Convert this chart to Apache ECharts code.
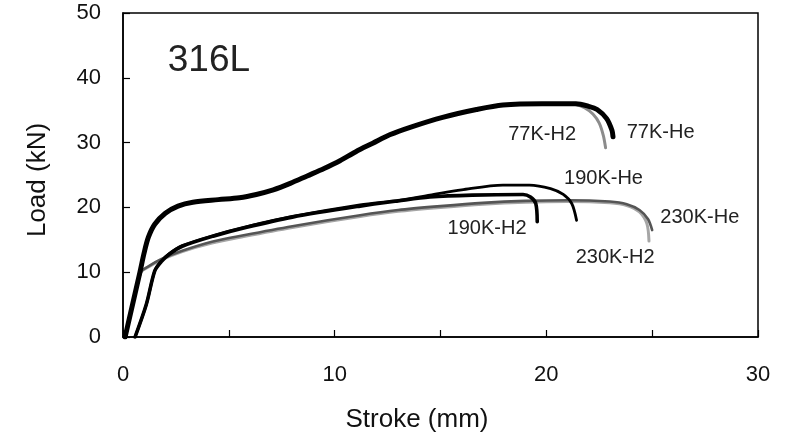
<!DOCTYPE html>
<html><head><meta charset="utf-8">
<script src="https://cdn.jsdelivr.net/npm/echarts@6/dist/echarts.min.js"></script>
<style>html,body{margin:0;padding:0;background:#fff}#c{width:787px;height:435px}</style>
</head><body><div id="c"></div>
<script>
// Stroke (mm), Load (kN) pairs
const he77 = [[0.1,0],[0.45,5],[0.8,10],[1.0,13],[1.2,15.4],[1.5,17.4],[2.0,19.1],[2.6,20.2],[3.3,20.8],[4.5,21.2],[5.5,21.5],[6.3,22.0],[7.1,22.7],[7.9,23.7],[8.7,24.85],[9.5,26.0],[10.25,27.2],[11.0,28.6],[11.8,29.9],[12.6,31.2],[13.6,32.4],[15.1,33.9],[16.7,35.1],[17.95,35.8],[19.8,36.0],[21.4,36.0],[22.0,35.6],[22.4,35.1],[22.85,33.7],[23.1,31.9],[23.15,30.9]];
const h2_77 = [[0.1,0],[0.45,5],[0.8,10],[1.0,13],[1.2,15.4],[1.5,17.4],[2.0,19.1],[2.6,20.2],[3.3,20.8],[4.5,21.2],[5.5,21.5],[6.3,22.0],[7.1,22.7],[7.9,23.7],[8.7,24.85],[9.5,26.0],[10.25,27.2],[11.0,28.6],[11.8,29.9],[12.6,31.2],[13.6,32.4],[15.1,33.9],[16.7,35.1],[17.95,35.8],[19.8,36.0],[21.3,35.9],[21.8,35.4],[22.2,34.4],[22.5,33.0],[22.7,31.0],[22.8,29.2]];
const he190 = [[0.57,0],[1.1,5],[1.5,10.2],[1.8,11.7],[2.2,12.9],[2.8,14.1],[4.3,15.7],[5.8,17.0],[8,18.6],[11.2,20.4],[13,21.1],[14.5,21.9],[16,22.7],[17.95,23.45],[19.2,23.45],[20.2,22.9],[20.8,22.0],[21.2,20.6],[21.43,18.0]];
const h2_190 = [[0.57,0],[1.1,5],[1.5,10.2],[1.8,11.6],[2.2,12.8],[2.8,14.0],[4.3,15.6],[5.8,16.9],[8,18.5],[11.2,20.2],[13,21.0],[14.5,21.6],[16.5,21.9],[18.9,22.0],[19.25,21.6],[19.5,20.6],[19.57,17.8]];
const he230 = [[0.1,0],[0.45,5],[0.85,10],[1.2,10.9],[1.8,12.0],[2.8,13.3],[4.2,14.7],[5.7,15.7],[8,17.1],[11.2,18.8],[13,19.6],[15,20.2],[17,20.7],[19,21.0],[21,21.1],[23,20.9],[23.8,20.5],[24.4,19.6],[24.8,18.2],[25.0,16.5]];
const h2_230 = [[0.1,0],[0.45,5],[0.85,10],[1.2,10.8],[1.8,11.9],[2.8,13.2],[4.2,14.5],[5.7,15.5],[8,16.9],[11.2,18.6],[13,19.4],[15,20.0],[17,20.5],[19,20.8],[21,20.9],[23,20.7],[23.8,20.3],[24.4,19.3],[24.75,17.5],[24.85,14.8]];
const xTicks = [0,5,10,15,20,25,30];
const yTicks = [0,10,20,30,40,50];
// curve labels: text and anchor (data coords)
const labelTexts = ['77K-H2','77K-He','190K-He','230K-He','230K-H2','190K-H2','316L'];
const labelAt = [[19.8,31.3],[25.4,31.5],[22.7,24.4],[27.25,18.4],[23.25,12.2],[17.2,16.8],[4.06,42.6]];

const FONT = '"Liberation Sans", Arial, sans-serif';
const chart = echarts.init(document.getElementById('c'));
function ser(name, data, color, width, z){
  return {name, type:'line', data, smooth:0.3, symbol:'none', z,
    lineStyle:{color, width, cap:'round', join:'round'}};
}
chart.setOption({
  backgroundColor:'#fff',
  animation:false,
  grid:{left:123, right:29, top:13, bottom:98, show:true, borderColor:'#000', borderWidth:1.5},
  xAxis:{type:'value', min:0, max:30, interval:5,
    axisLine:{lineStyle:{color:'#000', width:1.5}},
    axisTick:{inside:true, length:7, lineStyle:{color:'#000', width:1.2}},
    axisLabel:{margin:27, color:'#111', fontSize:22, fontFamily:FONT,
      formatter:v => (xTicks.indexOf(v)>=0 && v%10===0) ? String(v) : ''},
    splitLine:{show:false}},
  yAxis:{type:'value', min:0, max:50, interval:10,
    axisLine:{lineStyle:{color:'#000', width:1.5}},
    axisTick:{inside:true, length:7, lineStyle:{color:'#000', width:1.2}},
    axisLabel:{margin:22, color:'#111', fontSize:22, fontFamily:FONT,
      formatter:v => yTicks.indexOf(v)>=0 ? String(v) : ''},
    splitLine:{show:false}},
  series:[
    ser('230K-H2', h2_230, '#a6a6a6', 3, 2),
    ser('230K-He', he230, '#555555', 2.6, 3),
    ser('77K-H2', h2_77, '#8c8c8c', 3, 4),
    ser('190K-H2', h2_190, '#000000', 3.6, 5),
    ser('190K-He', he190, '#000000', 2.8, 6),
    ser('77K-He', he77, '#000000', 5, 7)
  ]
});
const g = labelTexts.map((t,i) => {
  const p = chart.convertToPixel({gridIndex:0}, labelAt[i]);
  return {type:'text', x:p[0], y:p[1], z:100,
    style:{text:t, fill:'#222', font:(t==='316L'?'37px ':'20px ')+FONT, align:'center', verticalAlign:'middle'}};
});
g.push({type:'text', x:417, y:420, style:{text:'Stroke (mm)', fill:'#111', font:'26px '+FONT, align:'center', verticalAlign:'middle'}});
g.push({type:'text', x:38, y:180, rotation:Math.PI/2, style:{text:'Load (kN)', fill:'#111', font:'26px '+FONT, align:'center', verticalAlign:'middle'}});
chart.setOption({graphic:g});
</script></body></html>
